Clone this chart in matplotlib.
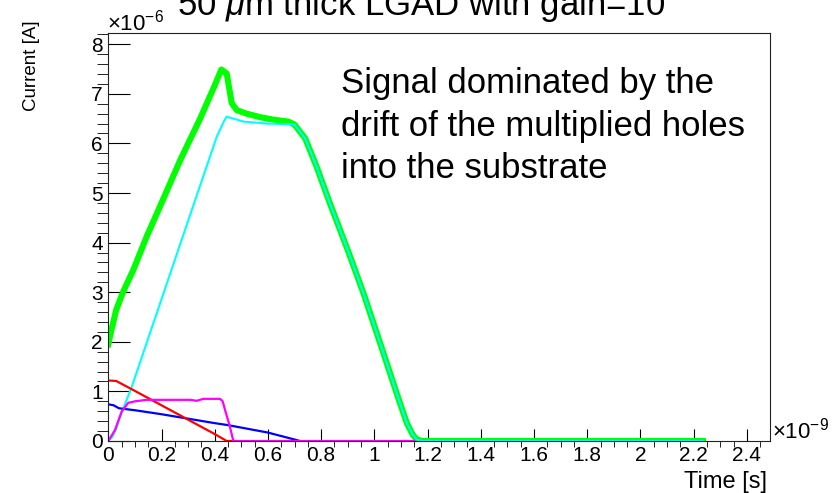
import matplotlib
matplotlib.use("Agg")
import matplotlib.pyplot as plt
from matplotlib.ticker import MultipleLocator, FuncFormatter

plt.rcParams['font.family'] = ['Liberation Sans', 'DejaVu Sans']
plt.rcParams['mathtext.fontset'] = 'custom'
plt.rcParams['mathtext.it'] = 'Liberation Sans:italic'
plt.rcParams['mathtext.rm'] = 'Liberation Sans'

# time in ns (x 1e-9 s), current in uA (x 1e-6 A)
t_total = [0, 0.01, 0.03, 0.056, 0.094, 0.144, 0.2, 0.27, 0.345, 0.40, 0.425,
           0.445, 0.464, 0.483, 0.52, 0.57, 0.62, 0.677, 0.70, 0.74, 0.783,
           0.833, 0.90, 0.959, 1.02, 1.084, 1.122, 1.145, 1.16, 1.18, 2.235]
i_total = [1.95, 2.2, 2.65, 3.01, 3.45, 4.12, 4.80, 5.66, 6.5, 7.17, 7.49,
           7.41, 6.81, 6.67, 6.6, 6.53, 6.48, 6.44, 6.38, 6.1, 5.53,
           4.79, 3.85, 2.98, 2.0, 0.96, 0.36, 0.12, 0.03, 0.0, 0.0]

t_gain_holes = [0, 0.015, 0.03, 0.044, 0.088, 0.15, 0.2, 0.276, 0.34, 0.408,
                0.435, 0.445, 0.47, 0.508, 0.595, 0.683, 0.70, 0.74, 0.783,
                0.833, 0.90, 0.959, 1.02, 1.084, 1.122, 1.145, 1.16, 1.18, 2.235]
i_gain_holes = [0, 0.08, 0.25, 0.49, 1.09, 2.07, 2.86, 4.06, 5.07, 6.14,
                6.45, 6.54, 6.5, 6.44, 6.40, 6.39, 6.38, 6.1, 5.53,
                4.79, 3.85, 2.98, 2.0, 0.96, 0.36, 0.12, 0.03, 0.0, 0.0]

t_holes = [0, 0.02, 0.04, 0.1, 0.2, 0.3, 0.4, 0.45, 0.5, 0.6, 0.65, 0.7, 0.72]
i_holes = [0.74, 0.72, 0.66, 0.62, 0.54, 0.45, 0.36, 0.32, 0.27, 0.17, 0.1, 0.03, 0.0]

t_electrons = [0, 0.03, 0.1, 0.2, 0.3, 0.4, 0.445, 0.47]
i_electrons = [1.22, 1.21, 1.01, 0.72, 0.43, 0.14, 0.0, 0.0]

t_gain_electrons = [0, 0.025, 0.05, 0.075, 0.1, 0.144, 0.2, 0.27, 0.31, 0.332,
                    0.357, 0.38, 0.42, 0.43, 0.439, 0.457, 0.47, 1.15]
i_gain_electrons = [0, 0.22, 0.59, 0.77, 0.80, 0.83, 0.83, 0.83, 0.83, 0.81,
                    0.85, 0.85, 0.85, 0.80, 0.62, 0.29, 0.0, 0.0]

title = r"50 $\mu$m thick LGAD with gain=10"
note_lines = ["Signal dominated by the",
              "drift of the multiplied holes",
              "into the substrate"]

W, H = 838, 493
fig = plt.figure(figsize=(W / 100, H / 100), dpi=100)
ax = fig.add_axes([108.3 / W, 1 - 441 / H, (770 - 108.3) / W, (441 - 33.3) / H])

ax.plot(t_total, i_total, color='#00ff00', lw=4.4, solid_joinstyle='round')
ax.plot(t_gain_holes, i_gain_holes, color='#00ffff', lw=1.5)
ax.plot(t_holes, i_holes, color='#0000ff', lw=1.6)
ax.plot(t_electrons, i_electrons, color='#ff0000', lw=1.6)
ax.plot(t_gain_electrons, i_gain_electrons, color='#ff00ff', lw=1.6)

ax.set_xlim(0, 2.487)
ax.set_ylim(0, 8.22)
ax.xaxis.set_major_locator(MultipleLocator(0.2))
ax.xaxis.set_minor_locator(MultipleLocator(0.05))
ax.yaxis.set_major_locator(MultipleLocator(1))
ax.yaxis.set_minor_locator(MultipleLocator(0.2))
fmt = FuncFormatter(lambda v, p: f"{v:g}")
ax.xaxis.set_major_formatter(fmt)
ax.yaxis.set_major_formatter(fmt)

ax.tick_params(direction='in', top=False, right=False, labelsize=15,
               width=0.8, color='black')
ax.tick_params(axis='x', which='major', length=8.4, pad=3.5)
ax.tick_params(axis='x', which='minor', length=4.3)
ax.tick_params(axis='y', which='major', length=15.8, pad=4.0)
ax.tick_params(axis='y', which='minor', length=8)
for s in ax.spines.values():
    s.set_linewidth(0.8)
    s.set_color('#222222')

fig.text(107 / W, 1 - 31 / H, r"$\times$10$^{-6}$", fontsize=16,
         ha='left', va='baseline')
fig.text(772 / W, 1 - 439 / H, r"$\times$10$^{-9}$", fontsize=16,
         ha='left', va='baseline')

fig.text(767 / W, 1 - 488 / H, "Time [s]", fontsize=17, ha='right', va='baseline')
fig.text(31 / W, 1 - 20 / H, "Current [A]", fontsize=13.5, rotation=90,
         ha='center', va='top')

fig.text(421 / W, 1 - 15 / H, title, fontsize=25, ha='center', va='baseline')

for k, line in enumerate(note_lines):
    fig.text(341 / W, 1 - (93.3 + 42.5 * k) / H, line, fontsize=25,
             ha='left', va='baseline')

fig.savefig("out.png", dpi=100)
